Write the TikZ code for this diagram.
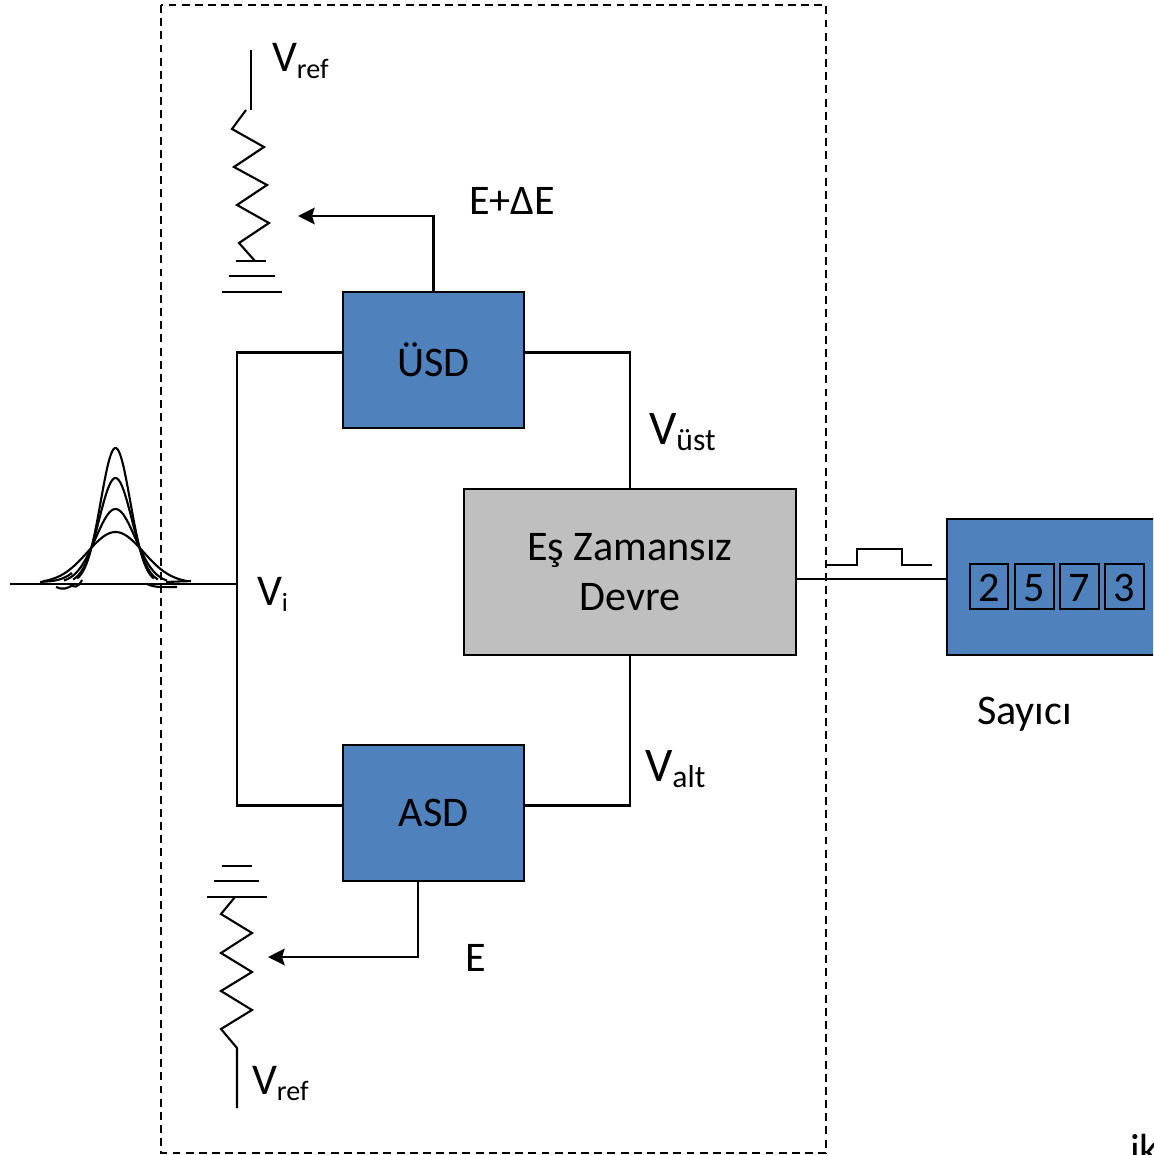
\documentclass[tikz,border=0pt]{standalone}
\usepackage{fontspec}
\setmainfont{Carlito}
\usetikzlibrary{arrows.meta}
\definecolor{blokmavi}{HTML}{4F81BD}
\definecolor{blokgri}{HTML}{BFBFBF}
\newcommand{\Vlab}[3]{{\fontsize{#1}{30}\selectfont V}{\fontsize{#2}{20}\selectfont\raisebox{-3.5pt}{#3}}}
\begin{document}
\begin{tikzpicture} [x=0.02cm, y=-0.02cm, line width=1.2pt,
    blok/.style={draw=black, rectangle, fill=blokmavi, minimum width=3.62cm, minimum height=2.72cm, font=\fontsize{24}{28}\selectfont},
    rakam/.style={draw=black, rectangle, minimum width=0.77cm, minimum height=0.9cm, inner sep=0pt, text height=17.2pt, text depth=0pt, font=\fontsize{24}{28}\selectfont},
    yazi/.style={anchor=base west, inner sep=0pt, font=\fontsize{24}{28}\selectfont},
    ok/.style={line width=1.3pt, -{Stealth[length=9.5pt, width=9.5pt, inset=1.5pt]}}]
  \useasboundingbox (0,0) rectangle (1153,1155);
  \clip (0,0) rectangle (1153,1155);
  \draw[dashed, line width=0.9pt, dash pattern=on 4.5pt off 3pt] (161,5) rectangle (826,1153);
  % bloklar
  \node[blok] (usd) at (433.5,360) {ÜSD};
  \node[blok] (asd) at (433.5,813) {ASD};
  \node[blok, fill=blokgri, minimum width=6.64cm, minimum height=3.32cm, align=center] (esz) at (630,572) {Eş Zamansız\\[0.5pt]Devre};
  \node[blok, minimum width=4.4cm] (sayici) at (1057,587) {};
  \node[rakam] (r2) at (989,586.5) {2};
  \node[rakam] (r5) at (1034.5,586.5) {5};
  \node[rakam] (r7) at (1079.5,586.5) {7};
  \node[rakam] (r3) at (1124.5,586.5) {3};
  % baglantilar
  \coordinate (usdl) at (343,352.5);
  \coordinate (usdr) at (524,352.5);
  \coordinate (asdl) at (343,805.5);
  \coordinate (asdr) at (524,805.5);
  \coordinate (asdb) at (418,881);
  \coordinate (eszr) at (796,579);
  \coordinate (sayl) at (947,579);
  \coordinate (giris) at (10,584);
  \coordinate (vi) at (237,584);
  \coordinate (ust) at (298,216);
  \coordinate (alt) at (268,957);
  \draw (giris) -- (vi);
  \draw (usdl) -- (237,352.5) -- (237,805.5) -- (asdl);
  \draw (usdr) -- (630,352.5) -- (esz.north);
  \draw (asdr) -- (630,805.5) -- (esz.south);
  \draw (eszr) -- (sayl);
  \draw[ok] (usd.north) -- (433.5,216) -- (ust);
  \draw[ok] (asdb) -- (418,957) -- (alt);
  % darbe
  \draw (827,565) -- (857,565) -- (857,549) -- (902,549) -- (902,565) -- (932,565);
  % ust direnc
  \draw (251,50) -- (251,110);
  \draw (246,110) -- (232,129) -- (264,147) -- (234,167) -- (267,185) -- (237,205) -- (269,223) -- (239,243) -- (255,261);
  \draw (236,261) -- (266,261);
  \draw (229,276) -- (275,276);
  \draw (222,292) -- (282,292);
  % alt direnc
  \draw (222,866) -- (252,866);
  \draw (214,881) -- (259,881);
  \draw (207,897) -- (267,897);
  \draw (235,897) -- (221,914) -- (252,933) -- (221,953) -- (252,972) -- (221,991) -- (252,1010) -- (221,1029) -- (237,1048) -- (237,1108);
  % giris darbeleri
  \foreach \h/\s in {135/14.7, 105/16.3, 74/19.8, 51/28} {
    \draw[smooth, samples=60, domain=-2.6*\s:2.6*\s] plot ({115.5+\x}, {583-\h*exp(-(\x*\x)/(2*\s*\s))});
  }
  \draw (40,582) .. controls (50,581) and (60,582) .. (72,573);
  \draw (56,587) .. controls (62,590) and (68,589) .. (74,584);
  \draw (70,584) .. controls (74,588) and (78,588) .. (82,580);
  \draw (147,584) .. controls (155,588) and (165,587) .. (177,587);
  \draw (166,582) -- (191,581);
  % yazilar
  \node[yazi] (vrefu) at (271,72) {\Vlab{25}{16}{ref}};
  \node[yazi] (vrefa) at (251,1094) {\Vlab{25}{16}{ref}};
  \node[yazi] (vust) at (648,444) {\Vlab{27.5}{18}{üst}};
  \node[yazi] (valt) at (644,781) {\Vlab{27.5}{18}{alt}};
  \node[yazi] (vgir) at (256,605) {\Vlab{25}{15}{i}};
  \node[yazi] (edelta) at (468,215) {E+ΔE};
  \node[yazi] (elab) at (464,971) {E};
  \node[yazi] (saylab) at (976,724) {Sayıcı};
  \node[yazi] (ik) at (1129,1163) {ik};
\end{tikzpicture}
\end{document}
